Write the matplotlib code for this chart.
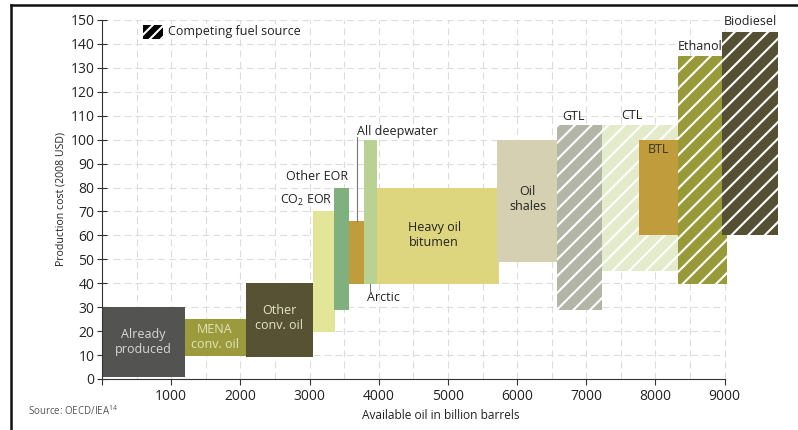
import matplotlib
matplotlib.use('Agg')
import matplotlib.pyplot as plt
from matplotlib.patches import Rectangle
from matplotlib.lines import Line2D

plt.rcParams['font.family'] = ['Open Sans', 'DejaVu Sans']
plt.rcParams['mathtext.fontset'] = 'custom'
plt.rcParams['mathtext.rm'] = 'Open Sans'
plt.rcParams['hatch.linewidth'] = 1.5

# Data: resource blocks (billion barrels on x, 2008 USD/bbl on y)
names   = ['Already produced', 'MENA conv. oil', 'Other conv. oil', 'CO2 EOR', 'Other EOR',
           'Arctic', 'All deepwater', 'Heavy oil bitumen', 'Oil shales', 'GTL', 'CTL', 'BTL',
           'Ethanol', 'Biodiesel']
x_start = [0,    1200, 2080, 3045, 3355, 3575, 3786, 3975, 5705, 6570, 7075, 7765, 8320, 8955]
x_end   = [1200, 2080, 3055, 3375, 3575, 3786, 3975, 5735, 6570, 7220, 8320, 8320, 9030, 9775]
cost_lo = [1,    9.5,  9,    19.5, 29,   39.5, 39.5, 39.5, 49,   29,   45,   60,   39.5, 60]
cost_hi = [30,   25,   40,   70,   80,   66,   100,  80,   100,  106,  106,  100,  135,  145]
competing = [False, False, False, False, False, False, False, False, False, True, True, False, True, True]
colors  = ['#535451', '#9b9a3c', '#565233', '#e3e598', '#80b07e', '#c19c3c', '#b9d192',
           '#ded67f', '#d4d0b1', '#b3b6a6', '#e4ebca', '#c19c3c', '#989a3a', '#555033']

fig = plt.figure(figsize=(7.98, 4.30), dpi=100)
ax = fig.add_axes([102/798, 1-379/430, 678/798, 359/430])
ax.set_xlim(0, 9800)
ax.set_ylim(0, 150)

# Grid (dashed, only up to 9000)
for gx in range(500, 9001, 500):
    ax.plot([gx, gx], [0, 150], color='#dcdcdc', lw=0.8, ls=(0, (6, 4)), zorder=0)
for gy in range(10, 151, 10):
    ax.plot([0, 9000], [gy, gy], color='#dcdcdc', lw=0.8, ls=(0, (6, 4)), zorder=0)

order = [0, 1, 2, 3, 4, 5, 6, 7, 8, 10, 9, 11, 12, 13]
for i in order:
    ax.add_patch(Rectangle((x_start[i], cost_lo[i]), x_end[i]-x_start[i], cost_hi[i]-cost_lo[i],
                           facecolor=colors[i], edgecolor='none', zorder=2))
    if competing[i]:
        ax.add_patch(Rectangle((x_start[i], cost_lo[i]), x_end[i]-x_start[i], cost_hi[i]-cost_lo[i],
                               facecolor='none', edgecolor='white', lw=0, hatch='//', zorder=2))

fs = 9
ax.text(600, 15.5, 'Already\nproduced', ha='center', va='center', color='#d8d8d8', fontsize=fs, linespacing=1.2, zorder=3)
ax.text(1630, 17.5, 'MENA\nconv. oil', ha='center', va='center', color='#e4e4b8', fontsize=fs, linespacing=1.2, zorder=3)
ax.text(2560, 25.5, 'Other\nconv. oil', ha='center', va='center', color='#e4e4c8', fontsize=fs, linespacing=1.2, zorder=3)
ax.text(3330, 74.5, r'CO$_\mathrm{2}$ EOR', ha='right', va='center', fontsize=fs, color='#222222', zorder=3)
ax.text(3560, 84.5, 'Other EOR', ha='right', va='center', fontsize=fs, color='#222222', zorder=3)
ax.text(3690, 103.5, 'All deepwater', ha='left', va='center', fontsize=fs, color='#222222', zorder=3)
ax.plot([3680, 3680], [101, 66], color='#777777', lw=0.8, zorder=3)
ax.text(3830, 34, 'Arctic', ha='left', va='center', fontsize=fs, color='#222222', zorder=3)
ax.plot([3880, 3880], [39.5, 36.5], color='#777777', lw=0.8, zorder=3)
ax.text(4800, 60, 'Heavy oil\nbitumen', ha='center', va='center', fontsize=fs, color='#222222', linespacing=1.2, zorder=3)
ax.text(6150, 75, 'Oil\nshales', ha='center', va='center', fontsize=fs, color='#222222', linespacing=1.2, zorder=3)
ax.text(6810, 109.5, 'GTL', ha='center', va='center', fontsize=fs, color='#222222', zorder=3)
ax.text(7660, 110, 'CTL', ha='center', va='center', fontsize=fs, color='#222222', zorder=3)
ax.text(8040, 96, 'BTL', ha='center', va='center', fontsize=fs, color='#3a3520', zorder=3)
ax.text(8640, 139, 'Ethanol', ha='center', va='center', fontsize=fs, color='#222222', zorder=3)
ax.text(9370, 149.5, 'Biodiesel', ha='center', va='center', fontsize=fs, color='#222222', zorder=3)

# Legend
ax.add_patch(Rectangle((590, 142.2), 290, 5.8, facecolor='black', edgecolor='none', zorder=3))
ax.add_patch(Rectangle((590, 142.2), 290, 5.8, facecolor='none', edgecolor='white', lw=0, hatch='///', zorder=3))
ax.text(950, 145, 'Competing fuel source', ha='left', va='center', fontsize=fs, color='#222222', zorder=3)

# Axes styling
for s in ['top', 'right']:
    ax.spines[s].set_visible(False)
ax.spines['left'].set_color('#333333')
ax.spines['bottom'].set_color('#333333')
ax.spines['bottom'].set_bounds(0, 9000)
ax.set_xticks(range(0, 9001, 1000))
ax.set_xticklabels([''] + [str(v) for v in range(1000, 9001, 1000)])
ax.set_yticks(range(0, 151, 10))
ax.tick_params(axis='y', direction='inout', length=7, width=0.8, color='#333333', labelsize=10, pad=2, labelcolor='#222222')
ax.tick_params(axis='x', direction='out', length=4, width=0.8, color='#333333', labelsize=10, pad=3, labelcolor='#222222')
ax.set_xlabel('Available oil in billion barrels', fontsize=8.6, color='#222222', labelpad=4)
ax.set_ylabel('Production cost (2008 USD)', fontsize=7.6, color='#222222', labelpad=3)

fig.text(28/798, 1-411/430, 'Source: OECD/IEA$^{\\mathrm{14}}$', fontsize=7, color='#555555', va='center')

# Frame lines (top and left only)
fig.add_artist(Line2D([11/798, 1], [1-5/430, 1-5/430], color='#111111', lw=1.8))
fig.add_artist(Line2D([11/798, 11/798], [0, 1-5/430], color='#111111', lw=1.8))

fig.savefig('out.png', dpi=100)
